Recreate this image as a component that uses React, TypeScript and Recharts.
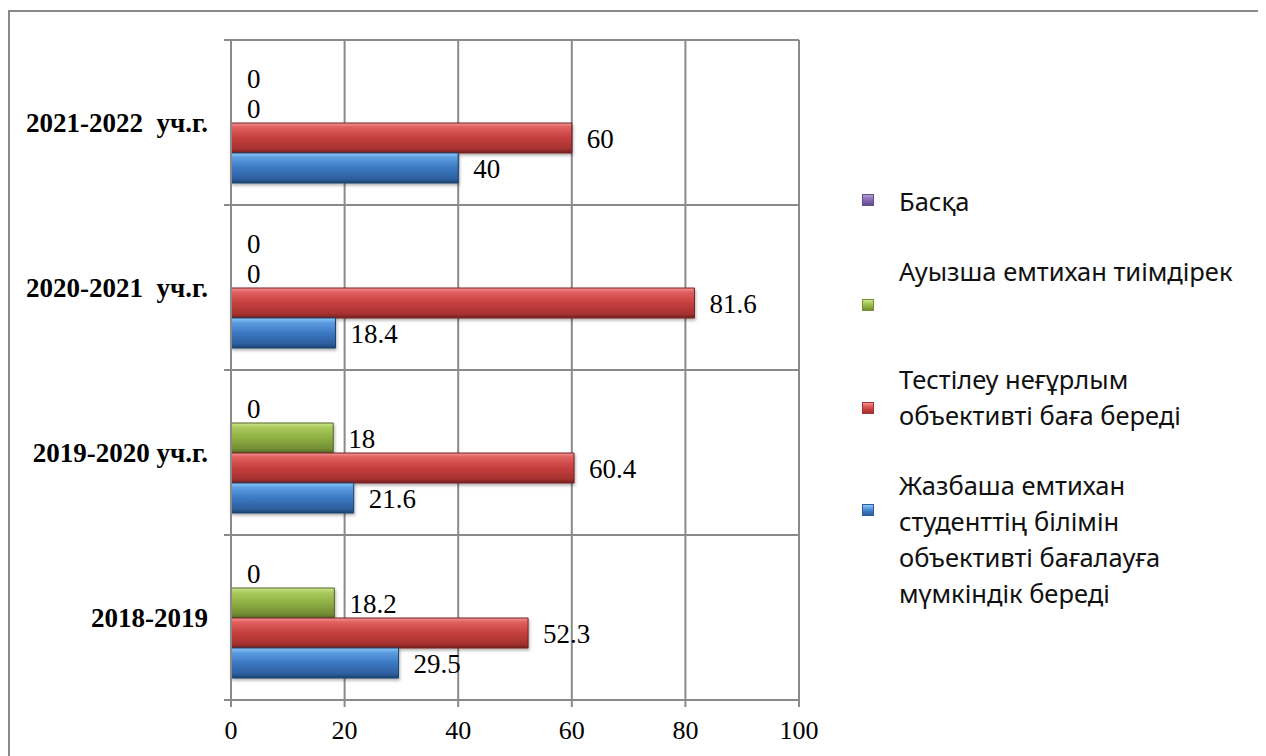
import React from 'react';
import { BarChart, Bar, XAxis, YAxis, CartesianGrid, LabelList, Legend, Cell } from 'recharts';

// ---------- data ----------
const categories = ['2021-2022  уч.г.', '2020-2021  уч.г.', '2019-2020 уч.г.', '2018-2019'];
const seriesNames = [
  'Жазбаша емтихан\nстуденттің білімін\nобъективті бағалауға\nмүмкіндік береді',
  'Тестілеу неғұрлым\nобъективті баға береді',
  'Ауызша емтихан тиімдірек',
  'Басқа',
];
const writtenValues = [40, 18.4, 21.6, 29.5];
const testingValues = [60, 81.6, 60.4, 52.3];
const oralValues = [0, 0, 18, 18.2];
const otherValues = [0, 0, 0, 0];
const xTicks = [0, 20, 40, 60, 80, 100];

const data = categories.map((category, i) => ({
  category,
  written: writtenValues[i],
  testing: testingValues[i],
  oral: oralValues[i],
  other: otherValues[i],
}));

// ---------- layout / style ----------
const CHART_W = 1258;
const CHART_H = 744;
const MARGIN = { top: 28, right: 469, bottom: 6, left: 0 };
const Y_AXIS_W = 221;
const X_AXIS_H = 50;
const PLOT_H = CHART_H - MARGIN.top - MARGIN.bottom - X_AXIS_H;
const BAND = PLOT_H / categories.length;
const GRID = '#8a8a8a';
const SERIF = '"Liberation Serif", "Times New Roman", serif';
const SANS = '"Noto Sans", "Open Sans", sans-serif';

const palette = {
  written: ['#93cbf7', '#5e9fe2', '#3c78c2', '#2d5f9f', '#1d426f'],
  testing: ['#f29494', '#e06060', '#c63f3e', '#a63231', '#762222'],
  oral: ['#d2e892', '#aacb5d', '#8eaf43', '#738e34', '#526625'],
  other: ['#b8a0da', '#9679c2', '#7c5faa', '#654c8c', '#463463'],
};

const legendLayout = [
  { key: 'other', name: seriesNames[3], markerTop: 182, textTop: 171 },
  { key: 'oral', name: seriesNames[2], markerTop: 287, textTop: 241 },
  { key: 'testing', name: seriesNames[1], markerTop: 390, textTop: 349 },
  { key: 'written', name: seriesNames[0], markerTop: 492, textTop: 455 },
];

function CategoryTick(props: any) {
  const { x, y, payload, index } = props;
  return (
    <g>
      {index === 0 && (
        <line x1={x - 7} x2={x} y1={y - BAND / 2} y2={y - BAND / 2} stroke={GRID} strokeWidth={2} />
      )}
      <line x1={x - 7} x2={x} y1={y + BAND / 2} y2={y + BAND / 2} stroke={GRID} strokeWidth={2} />
      <text
        x={x - 23}
        y={y}
        dy="0.35em"
        textAnchor="end"
        fontFamily={SERIF}
        fontWeight="bold"
        fontSize={27}
        fill="#000"
        style={{ whiteSpace: 'pre' }}
      >
        {payload.value}
      </text>
    </g>
  );
}

function LegendContent() {
  return (
    <div style={{ position: 'relative', width: CHART_W, height: CHART_H, pointerEvents: 'none' }}>
      {legendLayout.map((e) => {
        const c = (palette as any)[e.key];
        return (
          <React.Fragment key={e.key}>
            <div
              style={{
                position: 'absolute',
                left: 852,
                top: e.markerTop,
                width: 12,
                height: 12,
                boxSizing: 'border-box',
                background: `linear-gradient(to bottom, ${c[0]} 0%, ${c[1]} 30%, ${c[2]} 65%, ${c[3]} 100%)`,
                border: `1px solid ${c[3]}`,
              }}
            />
            <div
              style={{
                position: 'absolute',
                left: 889,
                top: e.textTop,
                fontFamily: SANS,
                fontSize: 25.5,
                lineHeight: '36px',
                color: '#111',
                whiteSpace: 'pre-line',
              }}
            >
              {e.name}
            </div>
          </React.Fragment>
        );
      })}
    </div>
  );
}

const labelStyle = { fill: '#000', fontSize: 27, fontFamily: SERIF };

export default function App() {
  return (
    <div>
      <style>{'body{overflow:hidden}'}</style>
      <div
        style={{
          marginTop: 2,
          width: 1272,
          height: 770,
          border: `2px solid ${GRID}`,
          boxSizing: 'border-box',
          background: '#fff',
        }}
      >
        <BarChart
          width={CHART_W}
          height={CHART_H}
          data={data}
          layout="vertical"
          margin={MARGIN}
          barSize={30}
          barGap={0}
        >
          <defs>
            {Object.entries(palette).map(([k, c]) => (
              <linearGradient key={k} id={`grad-${k}`} x1="0" y1="0" x2="0" y2="1">
                <stop offset="0%" stopColor={c[0]} />
                <stop offset="14%" stopColor={c[1]} />
                <stop offset="50%" stopColor={c[2]} />
                <stop offset="86%" stopColor={c[3]} />
                <stop offset="100%" stopColor={c[4]} />
              </linearGradient>
            ))}
            <filter id="barShadow" x="-5%" y="-20%" width="115%" height="160%">
              <feDropShadow dx="1" dy="2" stdDeviation="1.5" floodColor="#000" floodOpacity="0.3" />
            </filter>
          </defs>
          <CartesianGrid
            stroke={GRID}
            strokeWidth={2}
            horizontalCoordinatesGenerator={({ offset }: any) =>
              categories.map((_, i) => offset.top + (i * offset.height) / categories.length).concat([offset.top + offset.height])
            }
          />
          <XAxis
            type="number"
            domain={[0, 100]}
            ticks={xTicks}
            interval={0}
            height={X_AXIS_H}
            tickSize={7}
            tickMargin={14}
            axisLine={{ stroke: GRID, strokeWidth: 2 }}
            tickLine={{ stroke: GRID, strokeWidth: 2 }}
            tick={{ fill: '#000', fontSize: 26, fontFamily: SERIF }}
          />
          <YAxis
            type="category"
            dataKey="category"
            width={Y_AXIS_W}
            interval={0}
            tickSize={0}
            tickMargin={0}
            tickLine={false}
            axisLine={{ stroke: GRID, strokeWidth: 2 }}
            tick={(p: any) => <CategoryTick {...p} />}
          />
          <Legend
            layout="vertical"
            align="center"
            verticalAlign="middle"
            wrapperStyle={{ left: 0, top: 0, width: CHART_W, height: CHART_H }}
            content={() => <LegendContent />}
          />
          {(['other', 'oral', 'testing', 'written'] as const).map((k) => (
            <Bar
              key={k}
              dataKey={k}
              name={seriesNames[['written', 'testing', 'oral', 'other'].indexOf(k)]}
              fill={`url(#grad-${k})`}
              stroke={(palette as any)[k][4]}
              strokeWidth={1}
              minPointSize={1}
              isAnimationActive={false}
            >
              {data.map((d, i) => {
                const zero = (d as any)[k] === 0;
                return (
                  <Cell
                    key={i}
                    fill={zero ? 'transparent' : `url(#grad-${k})`}
                    stroke={zero ? 'none' : (palette as any)[k][4]}
                    filter={zero ? undefined : 'url(#barShadow)'}
                  />
                );
              })}
              <LabelList dataKey={k} position="right" offset={15} style={labelStyle} />
            </Bar>
          ))}
        </BarChart>
      </div>
    </div>
  );
}
